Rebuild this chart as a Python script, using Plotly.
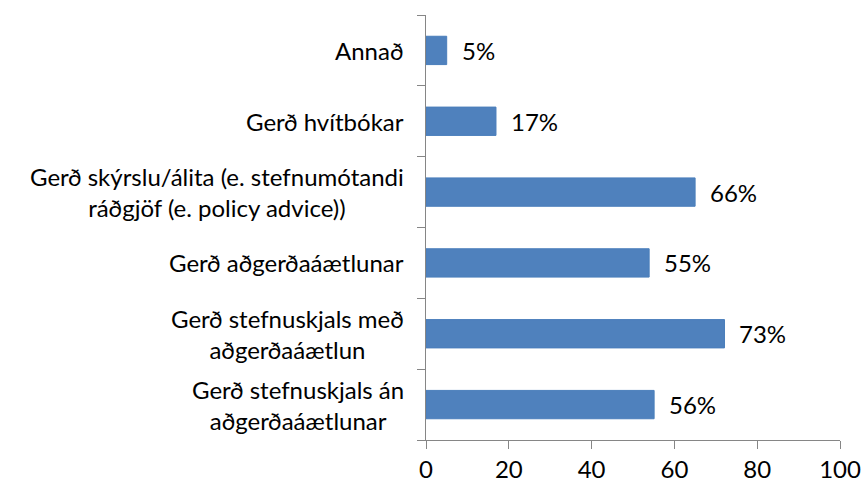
import plotly.graph_objects as go

categories = [
    "Gerð stefnuskjals án<br>aðgerðaáætlunar",
    "Gerð stefnuskjals með<br>aðgerðaáætlun",
    "Gerð aðgerðaáætlunar",
    "Gerð skýrslu/álita (e. stefnumótandi<br>ráðgjöf (e. policy advice))",
    "Gerð hvítbókar",
    "Annað",
]
# bar lengths as measured on the picture
values = [55.1, 72.1, 53.9, 65.0, 16.9, 5.0]
# data labels as printed on the picture
value_labels = ["56%", "73%", "55%", "66%", "17%", "5%"]
x_ticks = [0, 20, 40, 60, 80, 100]

FONT = "Lato"
FS = 24
AX = "#868686"

fig = go.Figure(go.Bar(
    x=values, y=list(range(len(categories))), orientation="h",
    marker=dict(color="#4F81BD", line=dict(color="#4A7EBB", width=1)),
    width=0.4, hoverinfo="skip",
))

for i, (c, v, lab) in enumerate(zip(categories, values, value_labels)):
    fig.add_annotation(x=0, xref="paper", y=i, yref="y", text=c,
                       showarrow=False, xanchor="right", align="center",
                       xshift=-20, font=dict(family=FONT, size=FS, color="black"))
    fig.add_annotation(x=v, xref="x", y=i, yref="y", text=lab,
                       showarrow=False, xanchor="left", xshift=13,
                       font=dict(family=FONT, size=FS, color="black"))

fig.update_layout(
    width=863, height=485, autosize=False,
    margin=dict(l=426, r=23, t=15, b=45),
    paper_bgcolor="white", plot_bgcolor="white",
    showlegend=False, hovermode=False,
    font=dict(family=FONT, size=FS, color="black"),
    xaxis=dict(range=[0, 100], tickvals=x_ticks, showgrid=False, zeroline=False,
               automargin=False,
               showline=True, linecolor=AX, linewidth=1,
               ticks="outside", ticklen=8, tickcolor=AX, tickwidth=1,
               tickfont=dict(family=FONT, size=FS, color="black")),
    yaxis=dict(range=[-0.5, 5.5], tickvals=[-0.5 + k for k in range(7)],
               automargin=False,
               showticklabels=False, showgrid=False, zeroline=False,
               showline=True, linecolor=AX, linewidth=1,
               ticks="outside", ticklen=8, tickcolor=AX, tickwidth=1),
)

fig.write_html(
    "out.html",
    config={"displayModeBar": False, "responsive": False, "staticPlot": True},
    post_script="document.body.style.margin='0';document.body.style.overflow='hidden';",
)
